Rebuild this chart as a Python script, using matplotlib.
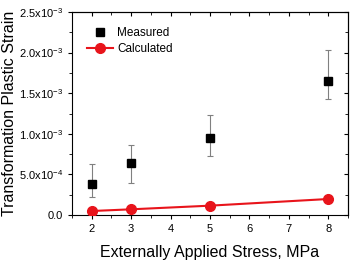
import matplotlib
matplotlib.use('Agg')
import matplotlib.pyplot as plt
from matplotlib.ticker import MultipleLocator, FuncFormatter

plt.rcParams['font.family'] = ['Liberation Sans', 'DejaVu Sans']
plt.rcParams['mathtext.fontset'] = 'custom'
plt.rcParams['mathtext.rm'] = 'Liberation Sans'
plt.rcParams['mathtext.it'] = 'Liberation Sans:italic'

# data (strain values in units of 1e-3)
stress = [2, 3, 5, 8]
measured = [0.378, 0.637, 0.952, 1.654]
meas_upper = [0.624, 0.862, 1.235, 2.028]
meas_lower = [0.220, 0.394, 0.727, 1.425]
calculated = [0.049, 0.070, 0.115, 0.197]

scale = 1e-3
meas = [m * scale for m in measured]
err_lo = [(m - l) * scale for m, l in zip(measured, meas_lower)]
err_hi = [(u - m) * scale for m, u in zip(measured, meas_upper)]
calc = [c * scale for c in calculated]

fig = plt.figure(figsize=(3.62, 2.61), dpi=100)
ax = fig.add_axes([72 / 362, 1 - 215 / 261, 276 / 362, 203 / 261])

ax.errorbar(stress, meas, yerr=[err_lo, err_hi], fmt='none', ecolor='#808080',
            elinewidth=0.8, capsize=2.5, capthick=0.8, zorder=2)
ax.plot(stress, meas, 's', color='black', markersize=5.5, label='Measured', zorder=3)
ax.plot(stress, calc, '-o', color='#e8141b', markersize=7, linewidth=1.5,
        label='Calculated', zorder=3)

ax.set_xlim(1.5, 8.5)
ax.set_ylim(0, 2.5e-3)
ax.xaxis.set_major_locator(MultipleLocator(1))
ax.xaxis.set_minor_locator(MultipleLocator(0.5))
ax.yaxis.set_major_locator(MultipleLocator(0.5e-3))
ax.yaxis.set_minor_locator(MultipleLocator(0.25e-3))


def fmt_y(v, pos):
    if abs(v) < 1e-12:
        return '0.0'
    exp = 0
    m = v
    while abs(m) < 1:
        m *= 10
        exp -= 1
    return '%.1fx10$^{%d}$' % (m, exp)


ax.yaxis.set_major_formatter(FuncFormatter(fmt_y))
ax.tick_params(axis='both', which='both', labelsize=8, direction='out')
ax.tick_params(which='major', length=3)
ax.tick_params(which='minor', length=2)

# top/right ticks pointing inward
sec_x = ax.secondary_xaxis('top')
sec_x.xaxis.set_major_locator(MultipleLocator(1))
sec_x.xaxis.set_minor_locator(MultipleLocator(0.5))
sec_x.tick_params(which='both', direction='in', labeltop=False)
sec_x.tick_params(which='major', length=3)
sec_x.tick_params(which='minor', length=2)
sec_y = ax.secondary_yaxis('right')
sec_y.yaxis.set_major_locator(MultipleLocator(0.5e-3))
sec_y.yaxis.set_minor_locator(MultipleLocator(0.25e-3))
sec_y.tick_params(which='both', direction='in', labelright=False)
sec_y.tick_params(which='major', length=3)
sec_y.tick_params(which='minor', length=2)

ax.set_xlabel('Externally Applied Stress, MPa', fontsize=11.5, labelpad=8)
ax.set_ylabel('Transformation Plastic Strain', fontsize=11.5, labelpad=1)

ax.legend(loc='upper left', frameon=False, fontsize=8.5, handlelength=2.2,
          handletextpad=0.3, borderaxespad=0.2, bbox_to_anchor=(0.03, 0.96),
          labelspacing=0.3)

fig.savefig('out.png', dpi=100)
